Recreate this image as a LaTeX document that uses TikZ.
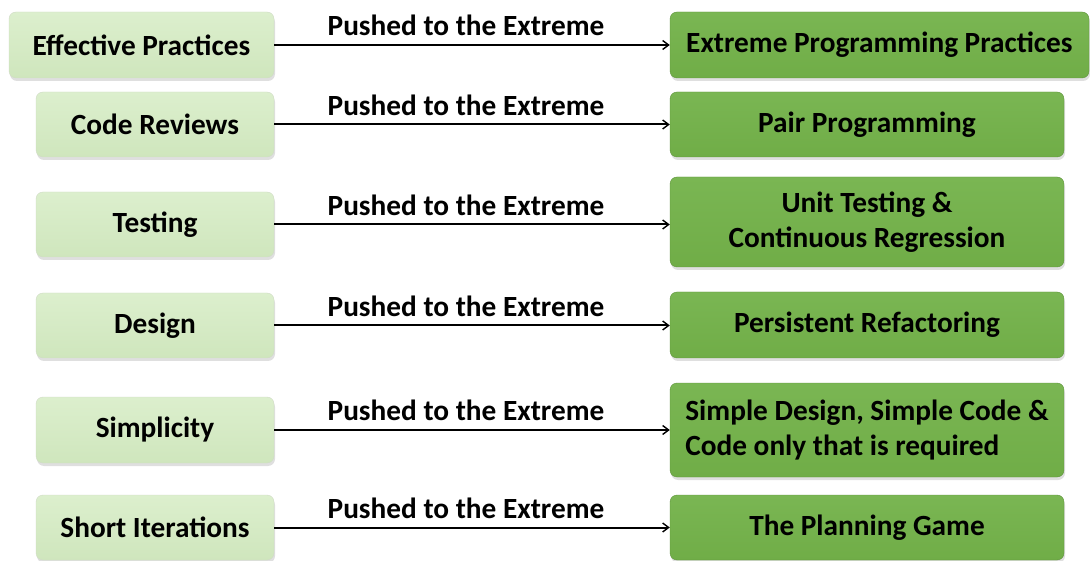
\documentclass[tikz,border=0pt]{standalone}
\usepackage{fontspec}
\setmainfont{Carlito}
\usetikzlibrary{arrows.meta,shadows}
\definecolor{lightg}{HTML}{CFE6BD}
\definecolor{lightgtop}{HTML}{DCEFCD}
\definecolor{darkg}{HTML}{70AD47}
\definecolor{darkgtop}{HTML}{7AB653}
\tikzset{
  srcbox/.style={rounded corners=7pt, top color=lightgtop, bottom color=lightg, draw=lightg!85!black!60, line width=0.4pt,
    drop shadow={shadow xshift=1pt, shadow yshift=-3pt, opacity=0.25}, font=\bfseries\fontsize{29.3}{35}\selectfont, inner sep=0pt, align=center},
  dstbox/.style={rounded corners=7pt, top color=darkgtop, bottom color=darkg, draw=darkg!85!black, line width=0.4pt,
    drop shadow={shadow xshift=1pt, shadow yshift=-3pt, opacity=0.25}, font=\bfseries\fontsize{29.3}{35}\selectfont, inner sep=0pt},
  conn/.style={-{Straight Barb[length=6pt,width=9pt,line width=1.4pt]}, line width=2pt, black},
  lab/.style={font=\bfseries\fontsize{29.3}{35}\selectfont, anchor=south, inner sep=0pt, yshift=8pt, xshift=-6pt}
}
\begin{document}
\begin{tikzpicture}[x=1pt,y=-1pt]
\useasboundingbox (0,0) rectangle (1090,561);
% left boxes
\node[srcbox, minimum width=265pt, minimum height=66pt] (s1) at (141.5,45) {Effective Practices};
\node[srcbox, minimum width=238pt, minimum height=65pt] (s2) at (155,124.5) {Code Reviews};
\node[srcbox, minimum width=238pt, minimum height=65pt] (s3) at (155,224.5) {Testing};
\node[srcbox, minimum width=238pt, minimum height=65pt] (s4) at (155,325.5) {Design};
\node[srcbox, minimum width=238pt, minimum height=66pt] (s5) at (155,430) {Simplicity};
\node[srcbox, minimum width=238pt, minimum height=65pt] (s6) at (155,527.5) {Short Iterations};
% right boxes
\node[dstbox, minimum width=419pt, minimum height=66pt, align=center] (d1) at (879.5,45) {Extreme Programming Practices};
\node[dstbox, minimum width=394pt, minimum height=65pt, align=center] (d2) at (867,124.5) {Pair Programming};
\node[dstbox, minimum width=394pt, minimum height=90pt, align=center] (d3) at (867,222) {Unit Testing \&\\Continuous Regression};
\node[dstbox, minimum width=394pt, minimum height=66pt, align=center] (d4) at (867,325) {Persistent Refactoring};
\node[dstbox, minimum width=394pt, minimum height=94pt, align=left] (d5) at (867,430) {Simple Design, Simple Code \&\\Code only that is required};
\node[dstbox, minimum width=394pt, minimum height=65pt, align=center] (d6) at (867,527.5) {The Planning Game};
% connectors
\foreach \i in {1,...,6}{
  \draw[conn] (s\i.east) -- (d\i.west |- s\i.east) node[midway, lab] {Pushed to the Extreme};
}
\end{tikzpicture}
\end{document}
